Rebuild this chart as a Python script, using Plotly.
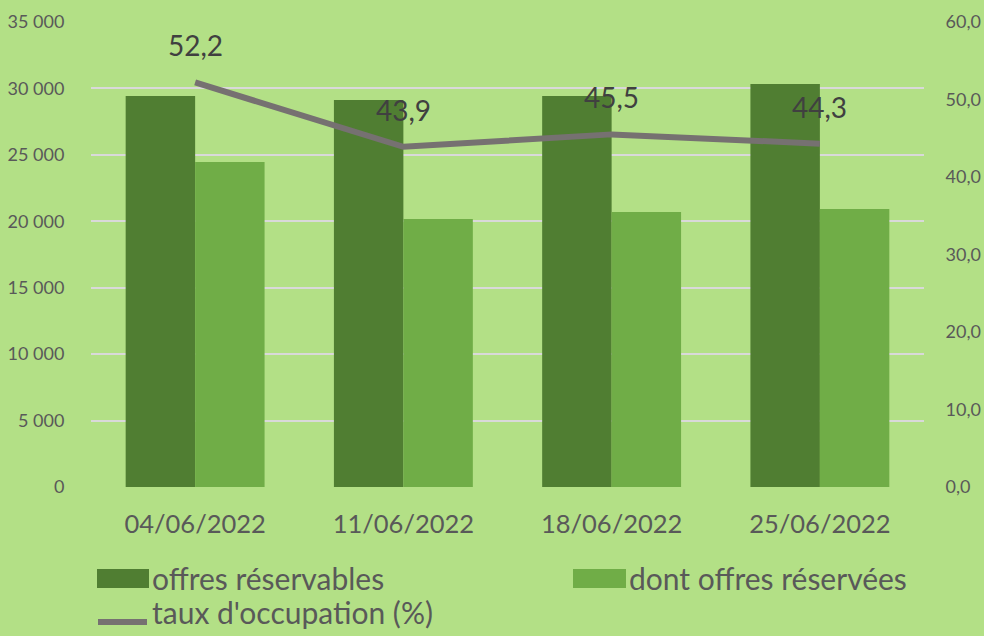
import plotly.graph_objects as go

categories = ["04/06/2022", "11/06/2022", "18/06/2022", "25/06/2022"]
offres_reservables = [29430, 29130, 29430, 30330]
offres_reservees = [24460, 20170, 20700, 20920]
taux_occupation = [52.2, 43.9, 45.5, 44.3]

FONT = "Lato"
W, H = 984, 636
L, R, T, B = 91, 60, 22, 149
PW, PH = W - L - R, H - T - B

def px(x):
    return (x - L) / PW

def py(y):
    return 1 - (y - T) / PH

C_DARK, C_LIGHT, C_LINE = "#507e32", "#70ad47", "#767171"

fig = go.Figure()
fig.add_trace(go.Bar(x=categories, y=offres_reservables, name="offres réservables",
                     marker=dict(color=C_DARK, line=dict(width=0))))
fig.add_trace(go.Bar(x=categories, y=offres_reservees, name="dont offres réservées",
                     marker=dict(color=C_LIGHT, line=dict(width=0))))
fig.add_trace(go.Scatter(x=categories, y=taux_occupation, name="taux d'occupation (%)",
                         mode="lines", line=dict(color=C_LINE, width=6), yaxis="y2"))

for c, v in zip(categories, taux_occupation):
    fig.add_annotation(x=c, y=v, yref="y2", text=f"{v:.1f}".replace(".", ","),
                       showarrow=False, yshift=37,
                       font=dict(family=FONT, size=28, color="#404040"))

# custom legend (matching the reference's large swatches)
legend_font = dict(family=FONT, size=30, color="#595959")
fig.add_shape(type="rect", xref="paper", yref="paper", x0=px(97), x1=px(149),
              y0=py(588), y1=py(569), fillcolor=C_DARK, line=dict(width=0))
fig.add_annotation(xref="paper", yref="paper", x=px(150), y=py(578), xanchor="left",
                   yanchor="middle", text="offres réservables", showarrow=False, font=legend_font)
fig.add_shape(type="rect", xref="paper", yref="paper", x0=px(573), x1=px(626),
              y0=py(588), y1=py(569), fillcolor=C_LIGHT, line=dict(width=0))
fig.add_annotation(xref="paper", yref="paper", x=px(627), y=py(578), xanchor="left",
                   yanchor="middle", text="dont offres réservées", showarrow=False, font=legend_font)
fig.add_shape(type="line", xref="paper", yref="paper", x0=px(98), x1=px(147),
              y0=py(622), y1=py(622), line=dict(color=C_LINE, width=6))
fig.add_annotation(xref="paper", yref="paper", x=px(150), y=py(612), xanchor="left",
                   yanchor="middle", text="taux d'occupation (%)", showarrow=False, font=legend_font)

fig.update_layout(
    width=W, height=H, autosize=False,
    paper_bgcolor="#b3e086", plot_bgcolor="#b3e086",
    margin=dict(l=L, r=R, t=T, b=B, autoexpand=False),
    separators=", ",
    barmode="group", bargap=0.333, bargroupgap=0,
    font=dict(family=FONT, color="#595959"),
    showlegend=False,
    xaxis=dict(showgrid=False, showline=False, ticks="outside", ticklen=14,
               tickcolor="rgba(0,0,0,0)", automargin=False,
               tickfont=dict(size=25.5, color="#595959")),
    yaxis=dict(range=[0, 35000], dtick=5000, tickformat=",d", automargin=False,
               showgrid=True, gridcolor="#d9d9d9", gridwidth=1.5,
               zeroline=False, tickfont=dict(size=18, color="#595959"),
               ticks="outside", ticklen=22, tickcolor="rgba(0,0,0,0)"),
    yaxis2=dict(range=[0, 60], dtick=10, tickformat=".1f", overlaying="y",
                side="right", showgrid=False, zeroline=False, automargin=False,
                tickfont=dict(size=18, color="#595959"),
                ticks="outside", ticklen=17, tickcolor="rgba(0,0,0,0)"),
)
fig.write_html("out.html", config={"displayModeBar": False},
               post_script="document.body.style.margin='0';document.body.style.overflow='hidden';")
